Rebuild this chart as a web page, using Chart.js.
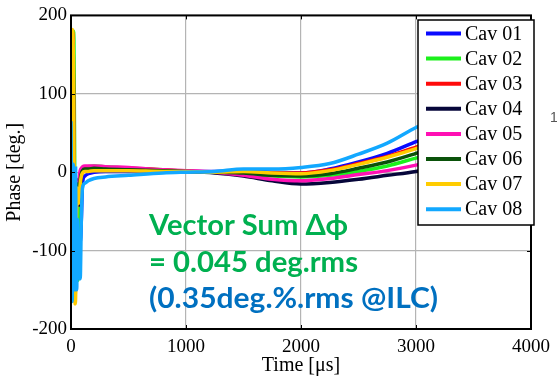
<!DOCTYPE html>
<html>
<head>
<meta charset="utf-8">
<script src="https://cdn.jsdelivr.net/npm/chart.js@4.4.1/dist/chart.umd.min.js"></script>
<style>
  html, body { margin: 0; padding: 0; background: #fff; }
  #phaseChart { display: block; }
</style>
</head>
<body>
<canvas id="phaseChart" width="557" height="376"></canvas>
<script>
// time axis in us, shared by all cavities (dense at the start for the fill transient)
const times = [0, 5, 10, 15, 20, 25, 30, 35, 40, 45, 50, 55, 60, 65, 70, 75, 80,
    90, 100, 120, 150, 200, 300, 500, 800,
    1000, 1250, 1500, 1750, 2000, 2250, 2500, 2750, 3000, 3250, 3500, 3750, 4000];

// phase in deg
const cav01 = [-20, 40, 120, 60, -60, -150, -100, -20, -80, -120, -60, -30, -50, -70, -80, -85, -90,
    -60, -15, -5, -2, 0, 1, 1, 1,
    1, 1, 2, 0, -1, 4, 13, 24, 39, 54, 71, 91, 112];
const cav02 = [0, 60, 140, 175, 180, 170, 60, -60, -140, -120, -80, -110, -138, -100, -40, -20, -10,
    -2, 3, 6, 7, 8, 7, 5, 3,
    1, 0, -2, -5, -6, -4, 1, 8, 18, 28, 40, 52, 64];
const cav03 = [10, 90, 160, 178, 150, 40, -100, -165, -130, -60, -20, -25, -35, -25, -15, -8, -2,
    2, 5, 6, 7, 7, 6, 5, 3,
    1, 0, 1, -1, -1, 3, 11, 20, 32, 45, 59, 73, 88];
const cav04 = [0, 50, 120, 150, 100, 0, -110, -150, -100, -50, -20, -10, -30, -40, -42, -35, -20,
    -5, 1, 3, 3, 4, 4, 3, 2,
    1, -1, -5, -11, -15, -13, -9, -4, 1, 9, 19, 31, 44];
const cav05 = [5, 80, 150, 170, 120, 20, -90, -155, -120, -60, -25, -20, -30, -20, -10, -3, 2,
    5, 7, 8, 8, 8, 7, 6, 3,
    2, 0, -4, -9, -11, -8, -3, 2, 9, 18, 29, 40, 52];
const cav06 = [0, 70, 140, 165, 130, 30, -100, -150, -110, -50, -20, -15, -30, -35, -30, -20, -10,
    -2, 2, 4, 4, 5, 4, 3, 2,
    1, 0, -1, -4, -5, -2, 5, 13, 24, 36, 50, 65, 80];
const cav07 = [60, 140, 182, 180, 150, 60, -60, -168, -160, -100, -40, -20, -30, -40, -35, -25, -15,
    -5, -1, 1, 1, 2, 2, 2, 1,
    1, 0, 1, -1, -2, 2, 10, 19, 30, 43, 60, 77, 94];
const cav08 = [65, -40, -165, -100, 10, -60, -150, -40, 5, -120, -150, -60, -100, -120, -110, -125, -136,
    -60, -20, -14, -11, -8, -6, -4, -1,
    0, 1, 4, 4, 6, 11, 23, 37, 57, 74, 93, 113, 135];

const cavNames = ['Cav 01', 'Cav 02', 'Cav 03', 'Cav 04', 'Cav 05', 'Cav 06', 'Cav 07', 'Cav 08'];
const cavSeries = [cav01, cav02, cav03, cav04, cav05, cav06, cav07, cav08];
const cavColors = ['#0a0aff', '#1cf01c', '#ff0a0a', '#06063a', '#ff10b4', '#0a520a', '#ffcc00', '#12a8ff'];

const timeTicks = [0, 1000, 2000, 3000, 4000];
const phaseTicks = [-200, -100, 0, 100, 200];

const noteLines = ['Vector Sum \u0394\u03d5', '= 0.045 deg.rms', '(0.35deg.%.rms @ILC)'];
const noteColors = ['#00b050', '#00b050', '#0070c0'];

Chart.defaults.font.family = "'Liberation Serif', 'Times New Roman', serif";
Chart.defaults.color = '#000';

// stretch/squeeze a line of text to a given width (the original is Calibri)
function fitText(ctx, text, x, y, width, font, color) {
    ctx.font = font;
    const w = ctx.measureText(text).width;
    ctx.save();
    ctx.translate(x, y);
    ctx.scale(width / w, 1);
    ctx.fillStyle = color;
    ctx.textBaseline = 'alphabetic';
    ctx.textAlign = 'left';
    ctx.fillText(text, 0, 0);
    ctx.restore();
}

const framePlugin = {
    id: 'frame',
    afterDatasetsDraw(chart) {
        const ctx = chart.ctx;
        const a = chart.chartArea;
        const xs = chart.scales.x;
        const ys = chart.scales.y;
        ctx.save();
        ctx.strokeStyle = '#000';
        ctx.lineWidth = 1;
        ctx.beginPath();
        for (const t of timeTicks) {
            const px = Math.round(xs.getPixelForValue(t)) + 0.5;
            ctx.moveTo(px, a.bottom); ctx.lineTo(px, a.bottom - 4);
            ctx.moveTo(px, a.top); ctx.lineTo(px, a.top + 4);
        }
        for (const v of phaseTicks) {
            const py = Math.round(ys.getPixelForValue(v)) + 0.5;
            ctx.moveTo(a.right, py); ctx.lineTo(a.right - 4, py);
            ctx.moveTo(a.left, py); ctx.lineTo(a.left + 4, py);
        }
        ctx.stroke();
        ctx.lineWidth = 2;
        ctx.strokeRect(a.left, a.top, a.right - a.left, a.bottom - a.top);
        ctx.restore();
    }
};

const boxLegendPlugin = {
    id: 'boxLegend',
    afterDraw(chart) {
        const ctx = chart.ctx;
        const box = { left: 418, top: 20, right: 534, bottom: 225 };
        ctx.save();
        ctx.fillStyle = '#fff';
        ctx.fillRect(box.left, box.top, box.right - box.left, box.bottom - box.top);
        ctx.strokeStyle = '#000';
        ctx.lineWidth = 1.5;
        ctx.strokeRect(box.left, box.top, box.right - box.left, box.bottom - box.top);
        ctx.font = "20px 'Liberation Serif', serif";
        ctx.textBaseline = 'middle';
        chart.data.datasets.forEach((ds, i) => {
            const y = box.top + 13.5 + i * 25.1;
            ctx.strokeStyle = ds.borderColor;
            ctx.lineWidth = 4;
            ctx.beginPath();
            ctx.moveTo(426, y);
            ctx.lineTo(461, y);
            ctx.stroke();
            ctx.fillStyle = '#000';
            ctx.fillText(ds.label, 465, y + 1);
        });
        ctx.restore();
    }
};

const notePlugin = {
    id: 'note',
    afterDraw(chart) {
        const ctx = chart.ctx;
        const font = "bold 29px Lato, 'Open Sans', 'DejaVu Sans', sans-serif";
        fitText(ctx, noteLines[0], 149, 235, 199, font, noteColors[0]);
        fitText(ctx, noteLines[1], 149, 272, 209, font, noteColors[1]);
        fitText(ctx, noteLines[2], 149, 308, 289, font, noteColors[2]);
        // clipped label left over at the right edge of the original picture
        ctx.save();
        ctx.font = "14px 'Liberation Sans', sans-serif";
        ctx.fillStyle = '#555';
        ctx.fillText('1', 550, 122);
        ctx.restore();
    }
};

const phaseChart = new Chart('phaseChart', {
    type: 'line',
    data: {
        datasets: cavSeries.map((vals, i) => ({
            label: cavNames[i],
            data: vals.map((v, k) => ({ x: times[k], y: v })),
            borderColor: cavColors[i],
            backgroundColor: cavColors[i],
            borderWidth: 3.5,
            pointRadius: 0,
            cubicInterpolationMode: 'monotone',
            order: cavSeries.length - 1 - i
        }))
    },
    options: {
        responsive: false,
        animation: false,
        events: [],
        layout: { padding: { top: 14, right: 17, left: 0, bottom: 0 } },
        plugins: {
            legend: { display: false },
            tooltip: { enabled: false }
        },
        scales: {
            x: {
                type: 'linear',
                min: 0,
                max: 4000,
                afterBuildTicks: (scale) => { scale.ticks = timeTicks.map((v) => ({ value: v })); },
                afterFit: (scale) => { scale.height = 47; },
                ticks: { font: { size: 19 }, padding: 7, maxRotation: 0, callback: (v) => String(v) },
                grid: { color: '#b4b4b4', lineWidth: 1.2, drawTicks: false },
                border: { display: false },
                title: { display: true, text: 'Time [\u03bcs]', font: { size: 20, lineHeight: 1 }, padding: { top: 0, bottom: 0 } }
            },
            y: {
                min: -200,
                max: 200,
                afterBuildTicks: (scale) => { scale.ticks = phaseTicks.map((v) => ({ value: v })); },
                afterFit: (scale) => { scale.width = 71; },
                ticks: { font: { size: 19 }, padding: 4, callback: (v) => String(v) },
                grid: { color: '#b4b4b4', lineWidth: 1.2, drawTicks: false },
                border: { display: false },
                title: { display: true, text: 'Phase [deg.]', font: { size: 20, lineHeight: 1 }, padding: { top: 5, bottom: 0 } }
            }
        }
    },
    plugins: [framePlugin, boxLegendPlugin, notePlugin]
});
</script>
</body>
</html>
